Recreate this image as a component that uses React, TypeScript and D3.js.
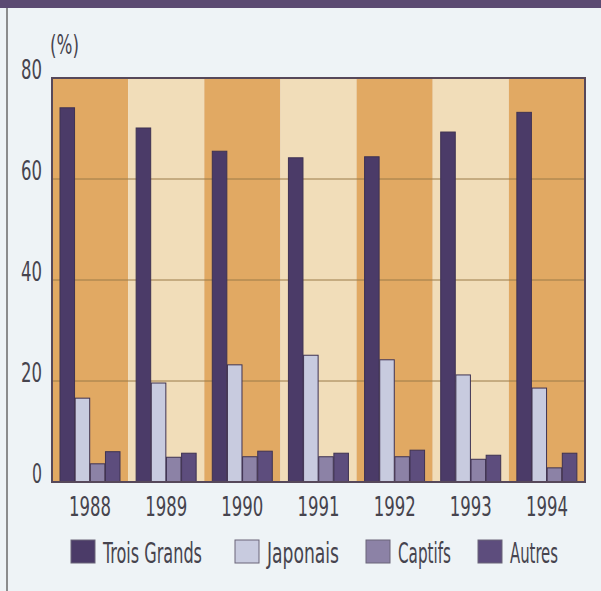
import React from "react";
import * as d3 from "d3";

const years = ["1988", "1989", "1990", "1991", "1992", "1993", "1994"];
const series = ["Trois Grands", "Japonais", "Captifs", "Autres"];
const troisGrands = [74.1, 70.1, 65.5, 64.2, 64.4, 69.3, 73.2];
const japonais = [16.6, 19.6, 23.2, 25.1, 24.2, 21.2, 18.6];
const captifs = [3.6, 4.9, 5.0, 5.0, 5.0, 4.5, 2.8];
const autres = [6.0, 5.7, 6.1, 5.7, 6.3, 5.3, 5.7];
const yTicks = [0, 20, 40, 60, 80];

const values = [troisGrands, japonais, captifs, autres];
const colors = ["#4b3b68", "#c8cbdf", "#8c82a6", "#5d4d7d"];
const font = "'Liberation Sans Narrow', 'DejaVu Sans Condensed', sans-serif";
const textColor = "#46444e";

const App = () => {
  const width = 601;
  const height = 591;
  const left = 52;
  const right = 585;
  const top = 78;
  const bottom = 482;

  const x0 = d3.scaleBand().domain(years).range([left, right]).padding(0);
  const x1 = d3.scaleBand().domain(series).range([8, 68]).paddingInner(0.04);
  const y = d3.scaleLinear().domain([0, 80]).range([bottom, top]);

  // legend positions (square x, text width)
  const legendX = [71, 235, 366, 478];
  const legendW = [99, 72, 53, 48];

  return (
    <svg
      width={width}
      height={height}
      style={{ position: "absolute", left: 0, top: 0 }}
      fontFamily={font}
    >
      <rect x={0} y={0} width={width} height={height} fill="#eef3f6" />
      <rect x={0} y={0} width={width} height={8} fill="#5b4a72" />
      <line x1={7} x2={7} y1={8} y2={height} stroke="#6a6a6a" strokeWidth={1.5} />

      {/* background bands */}
      {years.map((yr, i) => (
        <rect
          key={yr}
          x={x0(yr)}
          y={top}
          width={x0.bandwidth()}
          height={bottom - top}
          fill={i % 2 === 0 ? "#e1a963" : "#f1ddb9"}
        />
      ))}

      {/* grid */}
      {yTicks.slice(1, 4).map((t) => (
        <line key={t} x1={left} x2={right} y1={y(t)} y2={y(t)} stroke="#9a7a48" strokeWidth={1} />
      ))}

      {/* bars */}
      {years.map((yr, i) => (
        <g key={yr} transform={`translate(${x0(yr)},0)`}>
          {series.map((s, j) => (
            <rect
              key={s}
              x={x1(s)}
              y={y(values[j][i])}
              width={x1.bandwidth()}
              height={bottom - y(values[j][i])}
              fill={colors[j]}
              stroke="#3e3252"
              strokeWidth={1}
            />
          ))}
        </g>
      ))}

      <rect
        x={left}
        y={top}
        width={right - left}
        height={bottom - top}
        fill="none"
        stroke="#56485a"
        strokeWidth={2}
      />

      {/* y axis labels */}
      {yTicks.map((t) => (
        <text
          key={t}
          x={42}
          y={y(t) + 1}
          textAnchor="end"
          fontSize={27}
          fill={textColor}
          textLength={t === 0 ? 10 : 21}
          lengthAdjust="spacingAndGlyphs"
        >
          {t}
        </text>
      ))}
      <text
        x={50}
        y={54}
        fontSize={26}
        fill={textColor}
        textLength={29}
        lengthAdjust="spacingAndGlyphs"
      >
        (%)
      </text>

      {/* x axis labels */}
      {years.map((yr) => (
        <text
          key={yr}
          x={x0(yr) + x0.bandwidth() / 2 - 21}
          y={516}
          fontSize={27}
          fill={textColor}
          textLength={42}
          lengthAdjust="spacingAndGlyphs"
        >
          {yr}
        </text>
      ))}

      {/* legend */}
      {series.map((s, j) => (
        <g key={s}>
          <rect
            x={legendX[j]}
            y={540}
            width={24}
            height={23}
            fill={colors[j]}
            stroke="#6a6478"
            strokeWidth={1}
          />
          <text
            x={legendX[j] + 32}
            y={563}
            fontSize={28}
            fill={textColor}
            textLength={legendW[j]}
            lengthAdjust="spacingAndGlyphs"
          >
            {s}
          </text>
        </g>
      ))}
    </svg>
  );
};

export default App;
